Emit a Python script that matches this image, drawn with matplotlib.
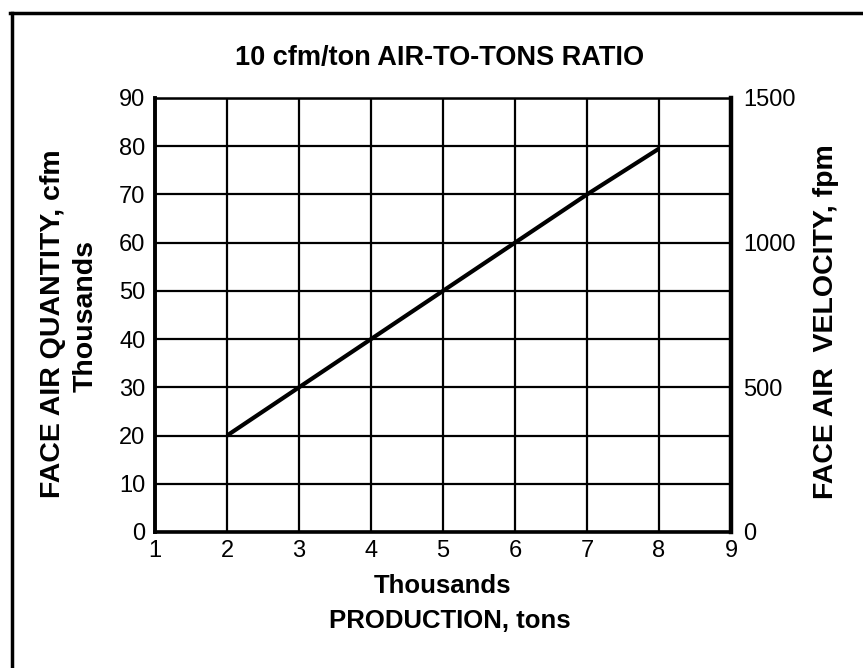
import matplotlib
matplotlib.use("Agg")
import matplotlib.pyplot as plt
from matplotlib.lines import Line2D

plt.rcParams['font.family'] = ['Liberation Sans', 'DejaVu Sans']

# Data
production = [2, 3, 4, 5, 6, 7, 8]            # thousands of tons
air_quantity = [20, 30, 40, 50, 60, 70, 79.5]  # thousands cfm
x_ticks = [1, 2, 3, 4, 5, 6, 7, 8, 9]
y_ticks = [0, 10, 20, 30, 40, 50, 60, 70, 80, 90]
velocity_ticks = [0, 500, 1000, 1500]

title = "10 cfm/ton AIR-TO-TONS RATIO"
xlabel_top = "Thousands"
xlabel_bottom = "PRODUCTION, tons"
ylabel_main = "FACE AIR QUANTITY, cfm"
ylabel_sub = "Thousands"
ylabel_right = "FACE AIR  VELOCITY, fpm"

W, H = 863, 668
fig = plt.figure(figsize=(W / 100, H / 100), dpi=100)
ax = fig.add_axes([155 / W, 1 - 532 / H, (731 - 155) / W, (532 - 98) / H])

ax.plot(production, air_quantity, color='black', lw=3.0, solid_capstyle='butt', zorder=3)

ax.set_xlim(1, 9)
ax.set_ylim(0, 90)
ax.set_xticks(x_ticks)
ax.set_yticks(y_ticks)
ax.grid(True, color='black', lw=1.6)
ax.set_axisbelow(True)
ax.tick_params(axis='both', length=0, labelsize=17)
ax.tick_params(axis='x', pad=6)
ax.tick_params(axis='y', pad=7)

for side, lw in [('left', 2.8), ('bottom', 2.6), ('right', 3.2), ('top', 1.8)]:
    ax.spines[side].set_linewidth(lw)
    ax.spines[side].set_color('black')

ax2 = ax.twinx()
ax2.set_ylim(0, 1500)
ax2.set_yticks(velocity_ticks)
ax2.tick_params(axis='y', length=0, labelsize=17, pad=9)
for s in ax2.spines.values():
    s.set_visible(False)

def fx(px):
    return px / W

def fy(py):
    return 1 - py / H

fig.text(fx(440), fy(58), title, ha='center', va='center', fontsize=19.5, fontweight='bold')
fig.text(fx(442), fy(586), xlabel_top, ha='center', va='center', fontsize=18.5, fontweight='bold')
fig.text(fx(450), fy(621), xlabel_bottom, ha='center', va='center', fontsize=18.5, fontweight='bold')
fig.text(fx(53), fy(324), ylabel_main, ha='center', va='center', rotation=90,
         fontsize=20.5, fontweight='bold')
fig.text(fx(86), fy(316), ylabel_sub, ha='center', va='center', rotation=90,
         fontsize=20.5, fontweight='bold')
fig.text(fx(826), fy(322), ylabel_right, ha='center', va='center', rotation=90,
         fontsize=20.5, fontweight='bold')

# Page frame
fig.add_artist(Line2D([fx(10), 1.0], [fy(13), fy(13)], transform=fig.transFigure, color='black', lw=2.5))
fig.add_artist(Line2D([fx(11.5), fx(11.5)], [0.0, fy(13)], transform=fig.transFigure, color='black', lw=2.5))

fig.savefig("out.png", dpi=100)
